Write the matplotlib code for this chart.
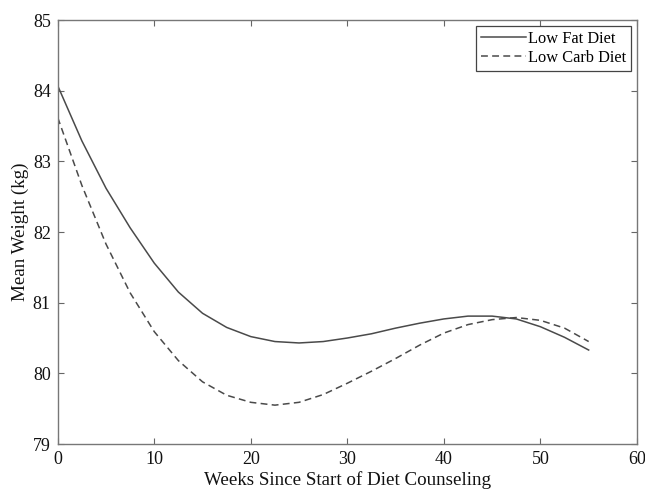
import matplotlib
matplotlib.use("Agg")
import matplotlib.pyplot as plt

weeks = [0, 2.5, 5, 7.5, 10, 12.5, 15, 17.5, 20, 22.5, 25, 27.5, 30, 32.5, 35, 37.5, 40, 42.5, 45, 47.5, 50, 52.5, 55]
low_fat = [84.07, 83.29, 82.62, 82.06, 81.56, 81.15, 80.85, 80.65, 80.52, 80.45, 80.43, 80.45, 80.50, 80.56, 80.64, 80.71, 80.77, 80.81, 80.81, 80.77, 80.66, 80.51, 80.33]
low_carb = [83.62, 82.66, 81.83, 81.14, 80.59, 80.18, 79.88, 79.69, 79.59, 79.55, 79.59, 79.70, 79.86, 80.03, 80.21, 80.40, 80.57, 80.69, 80.76, 80.79, 80.75, 80.64, 80.45]

plt.rcParams['font.family'] = ['Liberation Serif', 'DejaVu Serif']
fig = plt.figure(figsize=(6.45, 4.91), dpi=100)
ax = fig.add_axes([0.0895, 0.0957, 0.898, 0.8635])

lc = '#4a4a4a'
ax.plot(weeks, low_fat, color=lc, lw=1.1, ls='-', label='Low Fat Diet')
ax.plot(weeks, low_carb, color=lc, lw=1.1, ls=(0, (4.5, 2.8)), label='Low Carb Diet')

ax.set_xlim(0, 60)
ax.set_ylim(79, 85)
ax.set_xticks(range(0, 61, 10))
ax.set_yticks(range(79, 86))
ax.tick_params(direction='in', top=True, right=True, length=4, width=0.8,
               colors='#666666', labelcolor='#111111', labelsize=13, pad=5)
for s in ax.spines.values():
    s.set_color('#777777')
    s.set_linewidth(1.0)

ax.set_xlabel('Weeks Since Start of Diet Counseling', fontsize=13.7, color='#111111', labelpad=2)
ax.set_ylabel('Mean Weight (kg)', fontsize=13.7, color='#111111', labelpad=3)

leg = ax.legend(loc='upper right', fontsize=11.8, fancybox=False, framealpha=1,
                edgecolor='#444444', handlelength=2.75, handletextpad=0.1,
                borderpad=0.3, labelspacing=0.2, borderaxespad=0.35)
leg.get_frame().set_linewidth(0.9)

fig.savefig('out.png', dpi=100)
